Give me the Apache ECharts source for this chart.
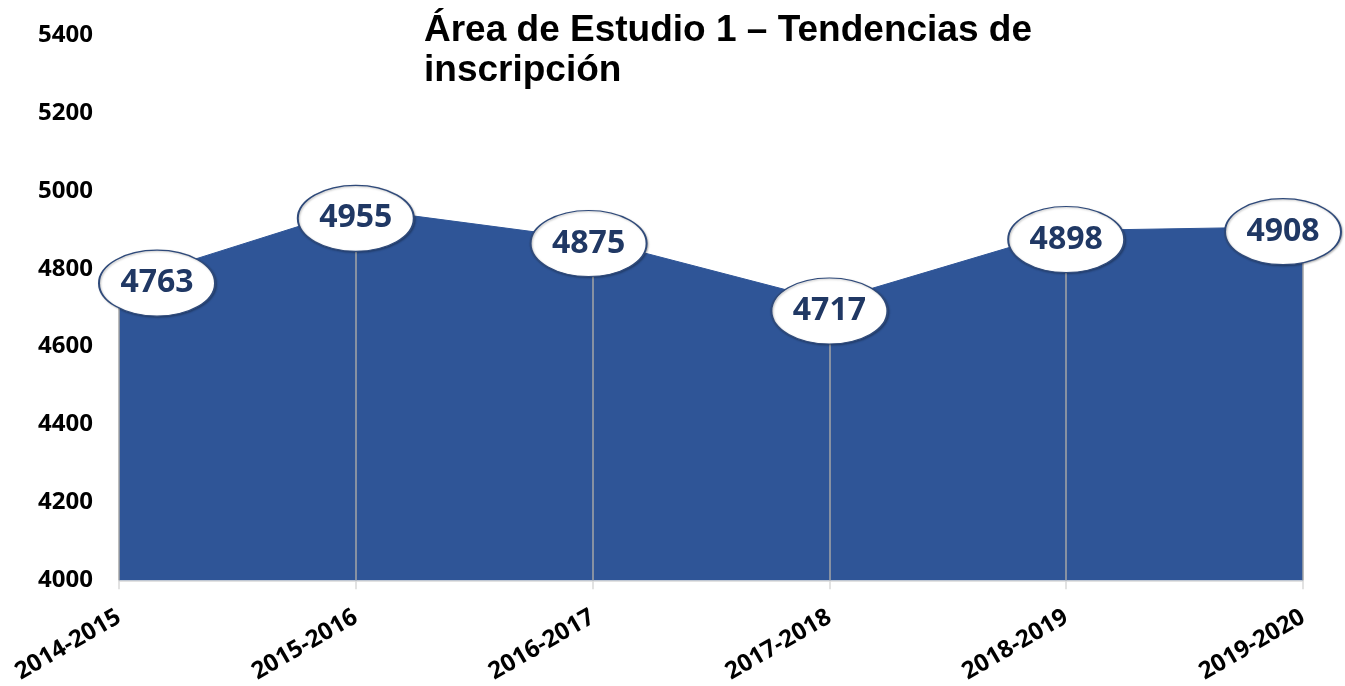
<!DOCTYPE html>
<html>
<head>
<meta charset="utf-8">
<script src="https://cdn.jsdelivr.net/npm/echarts@6/dist/echarts.min.js"></script>
<style>
  html, body { margin: 0; padding: 0; background: #fff; }
  #main { width: 1345px; height: 686px; }
</style>
</head>
<body>
<div id="main"></div>
<script>
var years = ['2014-2015', '2015-2016', '2016-2017', '2017-2018', '2018-2019', '2019-2020'];
var enrolment = [4763, 4955, 4875, 4717, 4898, 4908];
var yMin = 4000;
var yMax = 5400;
var yStep = 200;

// drop lines from each point down to the axis
var dropLines = enrolment.map(function (v, i) {
    return [{ coord: [i, v] }, { coord: [i, yMin] }];
});

// where each label bubble sits relative to its point
var bubbleShift = [[38, 0], [0, 10], [-4, 4], [0, 10], [0, 9], [-20, 5]];
var bubbleData = enrolment.map(function (v, i) {
    return { value: v, symbolOffset: bubbleShift[i] };
});

var myChart = echarts.init(document.getElementById('main'));
var option = {
    backgroundColor: '#ffffff',
    title: {
        text: 'Área de Estudio 1 – Tendencias de\ninscripción',
        left: 419,
        top: 6,
        textStyle: {
            fontFamily: 'Liberation Sans',
            fontWeight: 'bold',
            fontSize: 37,
            lineHeight: 40,
            color: '#000'
        }
    },
    grid: {
        left: 119,
        right: 42,
        top: 35,
        bottom: 105
    },
    xAxis: {
        type: 'category',
        data: years,
        boundaryGap: false,
        axisLine: { lineStyle: { color: '#d9d9d9', width: 1.5 } },
        axisTick: { show: true, length: 9, lineStyle: { color: '#d9d9d9', width: 1.5 } },
        axisLabel: {
            rotate: 30,
            margin: 35,
            fontFamily: 'Open Sans',
            fontWeight: 'bold',
            fontSize: 24,
            color: '#000'
        },
        splitLine: { show: false }
    },
    yAxis: {
        type: 'value',
        min: yMin,
        max: yMax,
        interval: yStep,
        axisLine: { show: false },
        axisTick: { show: false },
        splitLine: { show: false },
        axisLabel: {
            margin: 26,
            fontFamily: 'Open Sans',
            fontWeight: 'bold',
            fontSize: 24,
            color: '#000',
            formatter: function (v) { return String(v); }
        }
    },
    series: [
        {
            name: 'Inscripción',
            type: 'line',
            data: enrolment,
            symbol: 'none',
            lineStyle: { color: '#2f5597', width: 1 },
            areaStyle: { color: '#2f5597', opacity: 1 },
            markLine: {
                silent: true,
                symbol: 'none',
                label: { show: false },
                lineStyle: { color: '#a6a6a6', width: 1.5, type: 'solid' },
                data: dropLines
            },
            z: 2
        },
        {
            name: 'Etiquetas',
            type: 'scatter',
            data: bubbleData,
            symbol: 'circle',
            symbolSize: [116, 66],
            itemStyle: {
                color: '#ffffff',
                borderColor: '#2f4a7a',
                borderWidth: 1.5,
                opacity: 1,
                shadowBlur: 2,
                shadowColor: 'rgba(0,0,0,0.25)',
                shadowOffsetX: 1,
                shadowOffsetY: 1
            },
            label: {
                show: true,
                position: 'inside',
                fontFamily: 'Open Sans',
                fontWeight: 'bold',
                fontSize: 32,
                color: '#203864'
            },
            z: 5
        }
    ]
};
myChart.setOption(option);
</script>
</body>
</html>
